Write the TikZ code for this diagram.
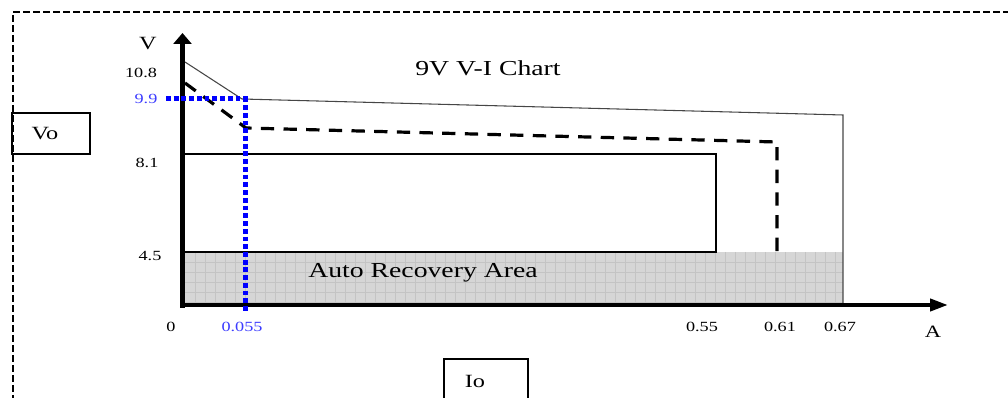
\documentclass[tikz,border=0pt]{standalone}
\usepackage{fontspec}
\setmainfont{Liberation Serif}[FakeStretch=1.3]
\usetikzlibrary{arrows.meta}

\definecolor{limitblue}{RGB}{0,0,255}
\definecolor{labelblue}{RGB}{60,60,255}
\definecolor{areagray}{RGB}{214,214,214}
\definecolor{areagrid}{RGB}{196,196,196}
\definecolor{curvegray}{RGB}{70,70,70}
\newcommand{\chartfont}[1]{\fontsize{#1}{#1}\selectfont}

\begin{document}
\begin{tikzpicture}[x=0.75pt,y=-0.75pt,
    ticklabel/.style={font=\chartfont{10.5pt},inner sep=0pt},
    axislabel/.style={font=\chartfont{14pt},inner sep=0pt},
    framebox/.style={line width=1.5pt,dash pattern=on 5pt off 2.5pt},
    boxline/.style={line width=1.2pt},
    limitline/.style={line width=3.75pt,limitblue,dash pattern=on 3.6pt off 2.2pt}]
  \useasboundingbox (0,0) rectangle (1008,398);
  \clip (0,0) rectangle (1008,398);
  % outer frame
  \draw[framebox] (1020,12) -- (13,12) -- (13,410);
  % auto recovery area
  \begin{scope}
    \fill[areagray] (185,252) rectangle (843,305);
    \foreach \x in {195,205,...,835}
      \draw[areagrid,line width=0.5pt] (\x,252) -- (\x,305);
    \foreach \y in {262,272,...,302}
      \draw[areagrid,line width=0.5pt] (185,\y) -- (843,\y);
  \end{scope}
  \node[font=\chartfont{16pt},inner sep=0pt] (area) at (423,273) {Auto Recovery Area};
  % 8.1 V / 0.55 A window
  \draw[boxline] (185,154) -- (716,154) -- (716,252) -- (185,252);
  % curves
  \draw[curvegray,line width=0.8pt] (185,62) -- (242,99) -- (843,115) -- (843,305);
  \draw[line width=2.4pt,dash pattern=on 10pt off 7pt] (185,83) -- (246,128) -- (777,142) -- (777,252);
  % axes
  \draw[line width=3.75pt,-{Triangle[length=8.25pt,width=13.5pt]}] (182.5,308) -- (182.5,33);
  \draw[line width=3pt,-{Triangle[length=13.5pt,width=9pt]}] (180,305) -- (948,305);
  \node[axislabel] (vaxis) at (148,44) {V};
  \node[axislabel,font=\chartfont{13pt}] (aaxis) at (933,332) {A};
  % tick labels
  \node[ticklabel] (v108) at (141,73) {10.8};
  \node[ticklabel,labelblue] (v99) at (146,99) {9.9};
  \node[ticklabel] (v81) at (147,163) {8.1};
  \node[ticklabel] (v45) at (150,256) {4.5};
  \node[ticklabel] (a0) at (171,327) {0};
  \node[ticklabel,labelblue] (a0055) at (242,327) {0.055};
  \node[ticklabel] (a055) at (702,327) {0.55};
  \node[ticklabel] (a061) at (780,327) {0.61};
  \node[ticklabel] (a067) at (840,327) {0.67};
  % 9.9 V at 0.055 A
  \draw[limitline] (166,99) -- (245,99) -- (245,313);
  \node[font=\chartfont{16pt},inner sep=0pt] (title) at (488,68) {9V V-I Chart};
  % output boxes
  \draw[boxline] (12,113) rectangle (90,154);
  \node[axislabel] (vo) at (45,134) {Vo};
  \draw[boxline] (444,410) -- (444,359) -- (528,359) -- (528,410);
  \node[axislabel] (io) at (475,381) {Io};
\end{tikzpicture}
\end{document}
